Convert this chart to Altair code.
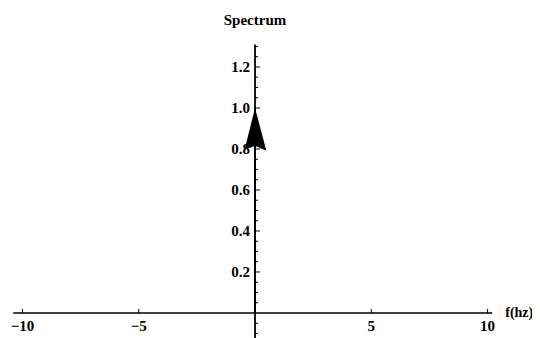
import altair as alt
import pandas as pd

# ---- data ----
spike_f = [0]
spike_amp = [1.0]

x_tick_values = [-10, -5, 5, 10]
x_tick_labels = ["\u221210", "\u22125", "5", "10"]

y_major_values = [0.2, 0.4, 0.6, 0.8, 1.0, 1.2]
y_major_labels = ["0.2", "0.4", "0.6", "0.8", "1.0", "1.2"]
y_minor_values = [-0.1, -0.05, 0.05, 0.1, 0.15, 0.25, 0.3, 0.35, 0.45, 0.5,
                  0.55, 0.65, 0.7, 0.75, 0.85, 0.9, 0.95, 1.05, 1.1, 1.15,
                  1.25, 1.3]

x_axis_span = [-10.4, 10.2]
y_axis_span = [-0.125, 1.31]

x_title = "f(hz)"
y_title = "Spectrum"

FONT = "Liberation Serif"

xs = alt.Scale(domain=[-10.45, 10.19], nice=False, zero=False)
ys = alt.Scale(domain=[-0.122, 1.312], nice=False, zero=False)

# ---- tables ----
x_axis_df = pd.DataFrame({"x": [x_axis_span[0]], "x2": [x_axis_span[1]], "y": [0]})
y_axis_df = pd.DataFrame({"y": [y_axis_span[0]], "y2": [y_axis_span[1]], "x": [0]})
y_major_df = pd.DataFrame({"y": y_major_values, "label": y_major_labels, "x0": 0})
y_minor_df = pd.DataFrame({"y": y_minor_values, "x0": 0})
x_tick_df = pd.DataFrame({"x": x_tick_values, "label": x_tick_labels, "y0": 0})
spike_df = pd.DataFrame({"f": spike_f, "amp": spike_amp, "base": 0})
xt_df = pd.DataFrame({"x": [x_axis_span[1]], "y": [0], "t": [x_title]})
yt_df = pd.DataFrame({"x": [0], "y": [y_axis_span[1]], "t": [y_title]})

X = lambda f: alt.X(f, type="quantitative", scale=xs, axis=None)
Y = lambda f: alt.Y(f, type="quantitative", scale=ys, axis=None)

x_axis = alt.Chart(x_axis_df).mark_rule(color="black", strokeWidth=1.6).encode(
    x=X("x"), x2="x2", y=Y("y"))
y_axis = alt.Chart(y_axis_df).mark_rule(color="black", strokeWidth=1.8).encode(
    y=Y("y"), y2="y2", x=X("x"))

y_major_ticks = alt.Chart(y_major_df).mark_rule(color="black", strokeWidth=1, x2Offset=5).encode(
    y=Y("y"), x=X("x0"), x2="x0")
y_minor_ticks = alt.Chart(y_minor_df).mark_rule(color="black", strokeWidth=1, x2Offset=3).encode(
    y=Y("y"), x=X("x0"), x2="x0")
x_ticks = alt.Chart(x_tick_df).mark_rule(color="black", strokeWidth=1, y2Offset=-4).encode(
    x=X("x"), y=Y("y0"), y2="y0")

y_labels = alt.Chart(y_major_df).mark_text(
    font=FONT, fontWeight="bold", fontSize=15, align="right", baseline="middle",
    dx=-5, color="black").encode(y=Y("y"), x=X("x0"), text="label:N")
x_labels = alt.Chart(x_tick_df).mark_text(
    font=FONT, fontWeight="bold", fontSize=15, align="center", baseline="top",
    dy=6, color="black").encode(x=X("x"), y=Y("y0"), text="label:N")

stem = alt.Chart(spike_df).mark_rule(color="black", strokeWidth=1.8).encode(
    x=X("f"), y=Y("base"), y2="amp")
head = alt.Chart(spike_df).mark_point(
    shape="M0,0 L0.27,1.02 L0,0.9 L-0.25,1.0 Z", size=7056, filled=True,
    color="black", opacity=1).encode(x=X("f"), y=Y("amp"))

x_title_mark = alt.Chart(xt_df).mark_text(
    font=FONT, fontWeight="bold", fontSize=14, align="left", baseline="middle",
    dx=13, color="black").encode(x=X("x"), y=Y("y"), text="t:N")
y_title_mark = alt.Chart(yt_df).mark_text(
    font=FONT, fontWeight="bold", fontSize=15, align="center", baseline="alphabetic",
    dy=-19, color="black").encode(x=X("x"), y=Y("y"), text="t:N")

chart = alt.layer(
    x_axis, y_axis, y_major_ticks, y_minor_ticks, x_ticks,
    y_labels, x_labels, stem, head, x_title_mark, y_title_mark
).properties(
    width=480, height=294,
    background="white",
    padding={"left": 4, "top": 36, "right": 40, "bottom": 0},
    autosize=alt.AutoSizeParams(type="none"),
).configure_view(strokeWidth=0, stroke="transparent")

chart.save("out.html", embed_options={"renderer": "svg", "actions": False})
